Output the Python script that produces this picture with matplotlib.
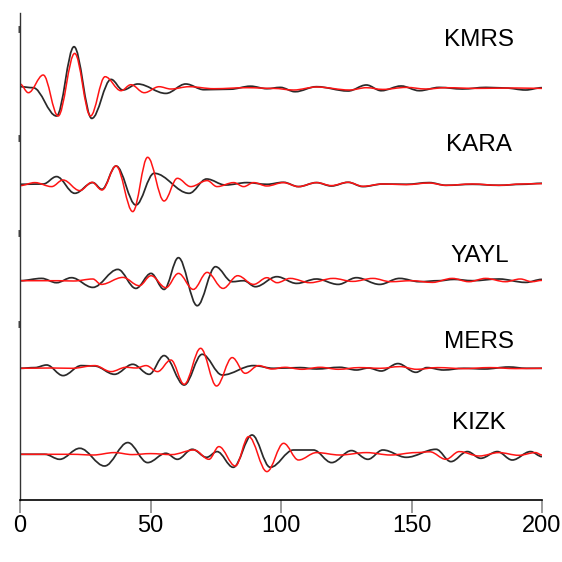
import matplotlib
matplotlib.use("Agg")
import matplotlib.pyplot as plt
from matplotlib.path import Path
from matplotlib.patches import PathPatch

# station names, top to bottom
stations = ["KMRS", "KARA", "YAYL", "MERS", "KIZK"]

# wiggle extrema: time (x units) and amplitude (px)
kmrs_black_t = [0, 5, 14.0, 20.7, 27.5, 34.9, 39.4, 45.1, 55.9, 63.5, 70.5, 80.6, 88.3, 94.6, 99.7, 105.4,
                113.6, 125.7, 132.7, 138.4, 146.0, 153.0, 160.6, 169.5, 178.5, 186.0, 193.7, 200]
kmrs_black_a = [1, 0, -28.3, 41, -30.7, 8.3, -2.3, 3.7, -5.7, 3.7, -2, -1.5, 1.5, -1, 0.3, -4,
                1, -3.3, 2.7, -3, 1.7, -3, 0.3, -1.3, 0.3, -0.3, -2.3, 0]
kmrs_red_t = [0, 3.2, 8.9, 14.6, 20.95, 27.0, 32.6, 38.7, 42.5, 47.6, 53.3, 57.8, 64.8, 74.3, 87.0,
              97.1, 104.8, 113.6, 126.3, 132.7, 139.0, 148.0, 155.6, 163.2, 175, 190, 200]
kmrs_red_a = [3.7, -5, 12.7, -28.3, 34.3, -28.3, 11, -3, 3, -5, 1, -1.3, 1, -1, 0,
              -0.7, -2.3, 0.7, -2.3, 0, -1.7, 0.3, -1.3, 0, -0.7, -0.3, -0.7]

kara_black_t = [0, 8.9, 14.0, 21.0, 27.9, 31.4, 36.8, 44.4, 51.4, 64.8, 71.5, 78.7, 87.0, 94.6,
                100.9, 106.7, 113.6, 119.3, 125.7, 131.4, 139.0, 148.0, 156.8, 163.2, 173.3, 183.5, 192.4, 200]
kara_black_a = [0, 0.3, 7.7, -9, 1.7, -5, 18.3, -20.7, 11, -9, 5.3, -0.7, 1.7, 0,
                2, -2.3, 1.7, -1.7, 2, -2.3, 0.3, 0, 1.7, -1, 0, -1, 0, 1]
kara_red_t = [0, 5.7, 12.1, 16.5, 22.9, 27.6, 31.4, 36.8, 43.2, 48.9, 55.2, 60.3, 65.4, 71.7, 75.5,
              81.9, 85.7, 89.5, 94.6, 100.9, 106.7, 113.6, 119.3, 125.7, 131.4, 139.0, 148.0, 156.8,
              163.2, 173.3, 183.5, 192.4, 200]
kara_red_a = [-1.3, 1.7, -2.3, 4.3, -6.3, 2, -5.7, 18.3, -27.3, 27, -16.7, 6, -2.3, 3.7, -2.3,
              1.7, -2.3, 1.7, -1.7, 1.7, -2.3, 1.7, -1.3, 2, -2, 0.3, -0.3, 1.3,
              -1, 0.3, -1, 0.3, 0.7]

yayl_black_t = [0, 8.3, 14.0, 19.7, 27.9, 37.5, 44.4, 50.2, 55.2, 60.7, 67.9, 74.9, 81.3, 85.7, 90.2,
                98.4, 106.0, 113.6, 121.9, 128.9, 137.8, 145.4, 153.0, 160.6, 166.3, 173.3, 183.5, 193.7, 200]
yayl_black_a = [0, 2.3, -2, 3, -6.7, 11.3, -7.7, 7.3, -8.7, 23, -25, 14, -1, 0, -6,
                4, -2.7, 1.7, -3.7, 3, -3.7, 2.3, -1, 0, 1.3, 0, 1.7, -1.7, 1.3]
yayl_red_t = [0, 14.6, 20.5, 27.9, 31.1, 39.4, 45.7, 50.2, 55.9, 60.7, 66.4, 71.7, 77.8, 83.4, 89.5,
              94.6, 98.5, 103.5, 111.1, 120.0, 127.5, 135.2, 142, 150, 158.0, 165.6, 172.0, 178.4,
              186.0, 191.7, 196.1, 200]
yayl_red_a = [0, 0, -0.3, 1.7, -3.7, 3.3, -5, 5, -7, 7.3, -8.7, 8.3, -7.7, 5, -3.7,
              3, -2, 2.3, -2, 2.3, -0.7, 2.3, -1, 0, -1.7, 2.3, -1, 2.3,
              -1, 1.7, -1, 0.3]

mers_black_t = [0, 5.7, 10.2, 16.5, 23.5, 28.5, 36.2, 43.2, 49.5, 55.2, 62.9, 69.8, 77.5, 89.5, 97.1,
                102, 107.3, 113.6, 122.5, 128.9, 133.5, 138.4, 144.8, 151.7, 155.9, 162.3, 170, 178,
                187.3, 194, 200]
mers_black_a = [0, 0.7, 3.3, -7.3, 2.7, 2.3, -6, 4, -6, 12.7, -16.7, 14, -6.7, 2.7, 0,
                0.3, 0.7, -0.7, 1, -1.7, 0.3, -2.7, 4.7, -4, 0.7, -1.7, 0, -0.7,
                1.3, 0, 0]
mers_red_t = [0, 12, 20, 28.6, 34.9, 40.6, 44.5, 48.3, 52.7, 57.8, 62.9, 69.2, 75.3, 81.3, 86.3,
              91.4, 96.5, 101.5, 108, 115, 122, 130, 138, 145.6, 152, 160, 170, 180, 190, 200]
mers_red_a = [0, 0.3, 0, 2.7, -3.3, 1, 0.3, 2.7, -3.3, 8.3, -16, 20, -17.7, 10.7, -5,
              2.7, -0.7, 1, -1, 1, -1, 0.7, 0, 1.7, -1, 0.7, -0.3, 0.7, -0.3, 0]

kizk_black_t = [0, 9.5, 15.2, 22.9, 32.4, 41.3, 48.9, 55.9, 60.3, 66.0, 71.5, 75.5, 81.7, 88.9, 95.9,
                104.8, 112.4, 119.4, 127.0, 133.3, 139.0, 148.0, 159.4, 165.1, 171.4, 176.5, 182.9,
                188.6, 195.6, 200]
kizk_black_a = [0, 0, -5, 6, -11.7, 11.7, -8.3, 1, -5, 5, -3, 2.7, -13, 19.3, -13,
                4.3, 4.3, -8.3, 3.7, -5, 4.3, -3, 5, -7.3, 2.7, -4, 2.7,
                -5.7, 2.7, -2.3]
kizk_red_t = [0, 20, 28, 36.2, 43, 50, 58, 66.7, 72.4, 76.2, 82.5, 87.6, 94.6, 101.0, 106.7,
              113.6, 122.5, 132.7, 142, 151.7, 157, 163.2, 168.3, 175.9, 183.5, 191.1, 197.5, 200]
kizk_red_a = [0, 0, -0.7, 1.7, -0.3, 0.7, -0.3, 4.3, -5, 7.7, -11.7, 17.7, -17.3, 11, -5.7,
              1.7, -0.7, 1.7, -0.7, 1.7, 2.5, -5, 2.7, -1.7, 1.7, -1, 1.7, -0.7]

x_ticks = [0, 50, 100, 150, 200]

black_traces = [(kmrs_black_t, kmrs_black_a), (kara_black_t, kara_black_a), (yayl_black_t, yayl_black_a),
                (mers_black_t, mers_black_a), (kizk_black_t, kizk_black_a)]
red_traces = [(kmrs_red_t, kmrs_red_a), (kara_red_t, kara_red_a), (yayl_red_t, yayl_red_a),
              (mers_red_t, mers_red_a), (kizk_red_t, kizk_red_a)]

# layout: trace baselines and label spots (px above the time axis)
baselines = [412.3, 315.7, 219.3, 131.7, 45.7]
label_y = [460, 355, 244, 158, 77]
label_x = 176


def wave_path(t, a, base, k=0.36):
    # smooth cubic segments between extrema, flat tangent at each extremum
    verts = [(t[0], base + a[0])]
    codes = [Path.MOVETO]
    for i in range(len(t) - 1):
        d = t[i + 1] - t[i]
        verts += [(t[i] + k * d, base + a[i]), (t[i + 1] - k * d, base + a[i + 1]), (t[i + 1], base + a[i + 1])]
        codes += [Path.CURVE4] * 3
    return Path(verts, codes)


fig = plt.figure(figsize=(5.62, 5.62), dpi=100)
ax = fig.add_axes([20 / 562, 62 / 562, 522 / 562, 487 / 562])
ax.set_xlim(0, 200)
ax.set_ylim(0, 487)

for (t, a), base in zip(black_traces, baselines):
    ax.add_patch(PathPatch(wave_path(t, a, base), fill=False, edgecolor="#2a2a2a", lw=1.25))
for (t, a), base in zip(red_traces, baselines):
    ax.add_patch(PathPatch(wave_path(t, a, base), fill=False, edgecolor="#ff1414", lw=1.1))

for name, y in zip(stations, label_y):
    ax.text(label_x, y, name, ha="center", va="center", fontsize=17.5, family="Liberation Sans")

ax.spines["top"].set_visible(False)
ax.spines["right"].set_visible(False)
ax.spines["bottom"].set_color("black")
ax.spines["bottom"].set_linewidth(1.2)
ax.spines["left"].set_color("#333333")
ax.spines["left"].set_linewidth(1.0)

ax.set_xticks(x_ticks)
ax.set_xticklabels([str(v) for v in x_ticks], family="Liberation Sans")
ax.tick_params(axis="x", direction="out", length=9, width=1.1, color="#808080", labelsize=17, pad=2)
ax.set_yticks([471, 362, 267, 176])
ax.set_yticklabels([])
ax.tick_params(axis="y", direction="out", length=1.2, width=5, color="#444444")

fig.savefig("out.png", dpi=100)
